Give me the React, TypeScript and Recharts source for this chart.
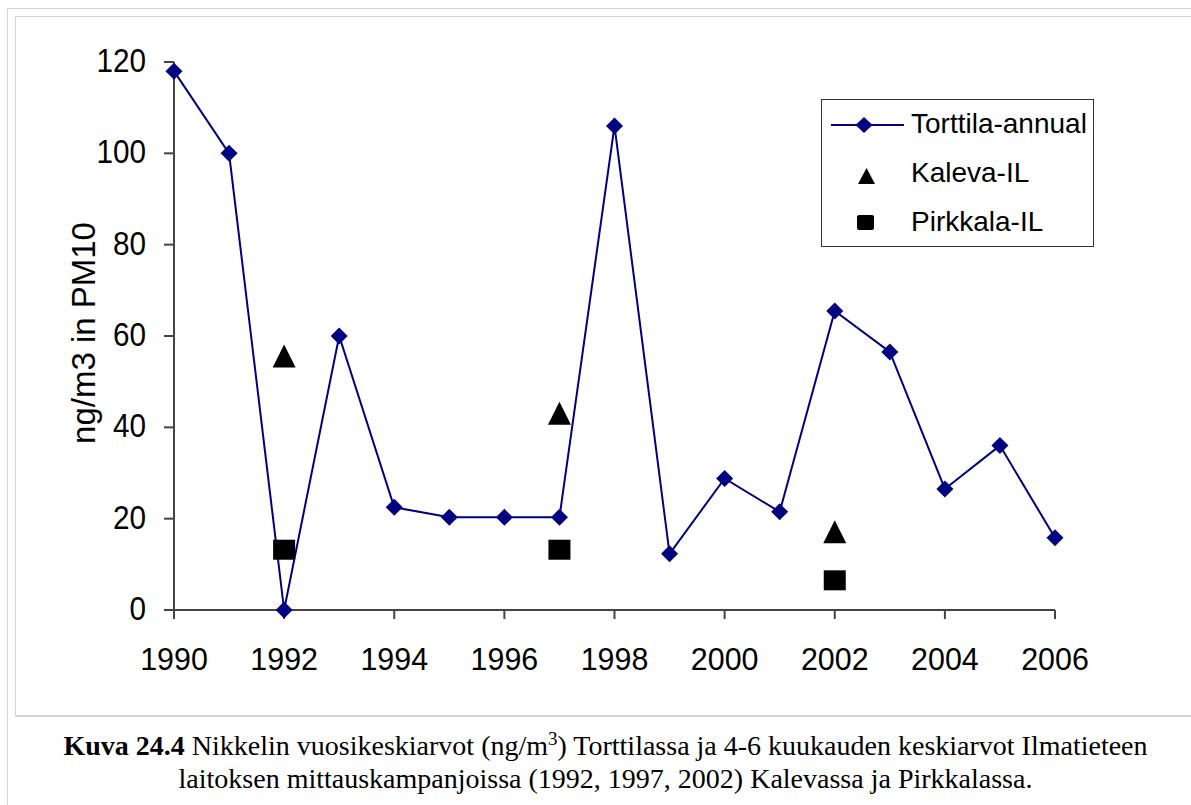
import React from "react";
import { ComposedChart, Line, Scatter, XAxis, YAxis, Legend } from "recharts";

const years = [1990, 1991, 1992, 1993, 1994, 1995, 1996, 1997, 1998, 1999, 2000, 2001, 2002, 2003, 2004, 2005, 2006];
const torttila = [118, 100, 0, 60, 22.5, 20.3, 20.3, 20.3, 106, 12.3, 28.8, 21.5, 65.5, 56.5, 26.5, 36, 15.8];

const campaignYears = [1992, 1997, 2002];
const kaleva = [55.5, 43, 17];
const pirkkala = [13.2, 13.2, 6.5];

const xTicks = [1990, 1992, 1994, 1996, 1998, 2000, 2002, 2004, 2006];
const yTicks = [0, 20, 40, 60, 80, 100, 120];

const torttilaRows = years.map((year, i) => ({ year, value: torttila[i] }));
const kalevaRows = campaignYears.map((year, i) => ({ year, value: kaleva[i] }));
const pirkkalaRows = campaignYears.map((year, i) => ({ year, value: pirkkala[i] }));

const NAVY = "#000080";
const FONT = "Arial, 'Liberation Sans', sans-serif";

const Diamond = (props: any) => {
  const { cx, cy, index } = props;
  if (cx == null || cy == null) return <g key={index} />;
  const r = 8.5;
  return (
    <polygon
      key={index}
      points={`${cx},${cy - r} ${cx + r},${cy} ${cx},${cy + r} ${cx - r},${cy}`}
      fill={NAVY}
    />
  );
};

const Triangle = (props: any) => {
  const { cx, cy } = props;
  return <polygon points={`${cx},${cy - 12} ${cx + 11.5},${cy + 11} ${cx - 11.5},${cy + 11}`} fill="#000" />;
};

const Square = (props: any) => {
  const { cx, cy } = props;
  return <rect x={cx - 11} y={cy - 10} width={22} height={20} fill="#000" />;
};

const XTick = (props: any) => {
  const { x, y, payload } = props;
  return (
    <text transform={`translate(${x},${y + 49}) scale(0.95,1)`} textAnchor="middle" fontSize={32} fontFamily={FONT} fill="#000">
      {payload.value}
    </text>
  );
};

const YTick = (props: any) => {
  const { x, y, payload } = props;
  return (
    <text transform={`translate(${x - 16},${y + 10}) scale(0.9,1)`} textAnchor="end" fontSize={33} fontFamily={FONT} fill="#000">
      {payload.value}
    </text>
  );
};

const legendItems = ["Torttila-annual", "Kaleva-IL", "Pirkkala-IL"];

const LegendBox = () => (
  <div
    style={{
      width: 273,
      height: 148,
      border: "1px solid #333",
      background: "#fff",
      fontFamily: FONT,
      fontSize: 28,
      color: "#000",
      boxSizing: "border-box",
      position: "relative",
    }}
  >
    <svg width={90} height={148} style={{ position: "absolute", left: 0, top: 0 }}>
      <line x1={9} y1={25} x2={82} y2={25} stroke={NAVY} strokeWidth={2} />
      <polygon points="42,17 50.5,25 42,33 33.5,25" fill={NAVY} />
      <polygon points="44.5,68 53,84 36,84" fill="#000" />
      <rect x={35} y={115} width={17} height={15} rx={2} fill="#000" />
    </svg>
    {legendItems.map((t, i) => (
      <div
        key={t}
        style={{
          position: "absolute",
          left: 89,
          top: 9 + i * 49,
          lineHeight: "30px",
          whiteSpace: "nowrap",
        }}
      >
        {t}
      </div>
    ))}
  </div>
);

export default function App() {
  return (
    <div style={{ position: "absolute", left: 0, top: 0, width: 1191, height: 805, background: "#fff" }}>
      <div style={{ position: "absolute", left: 7, top: 8, right: 0, bottom: 0, borderLeft: "1px solid #d4d4d4", borderTop: "1px solid #d4d4d4" }} />
      <div style={{ position: "absolute", left: 15, top: 16, width: 1176, height: 698, borderLeft: "1px solid #d4d4d4", borderTop: "1px solid #d4d4d4", borderBottom: "2px solid #d4d4d4" }} />
      <div style={{ position: "absolute", left: 0, top: 0 }}>
        <ComposedChart width={1191} height={715} margin={{ top: 62, right: 136, bottom: 0, left: 74 }}>
          <XAxis
            dataKey="year"
            type="number"
            domain={[1990, 2006]}
            ticks={xTicks}
            allowDuplicatedCategory={false}
            height={105}
            tickSize={9}
            tick={<XTick />}
            stroke="#444"
            strokeWidth={2}
          />
          <YAxis
            type="number"
            domain={[0, 120]}
            ticks={yTicks}
            width={100}
            tickSize={10}
            tick={<YTick />}
            stroke="#444"
            strokeWidth={2}
            label={{
              value: "ng/m3 in PM10",
              angle: -90,
              position: "insideLeft",
              offset: 0,
              dx: 9,
              dy: -3,
              style: { fontSize: 33, fontFamily: FONT, fill: "#000", textAnchor: "middle" },
            }}
          />
          <Legend
            verticalAlign="middle"
            align="center"
            layout="vertical"
            wrapperStyle={{ left: 821, top: 99, width: 273 }}
            content={() => <LegendBox />}
          />
          <Line
            data={torttilaRows}
            dataKey="value"
            name="Torttila-annual"
            type="linear"
            stroke={NAVY}
            strokeWidth={2}
            dot={<Diamond />}
            activeDot={false}
            isAnimationActive={false}
          />
          <Scatter data={kalevaRows} dataKey="value" name="Kaleva-IL" shape={<Triangle />} isAnimationActive={false} />
          <Scatter data={pirkkalaRows} dataKey="value" name="Pirkkala-IL" shape={<Square />} isAnimationActive={false} />
        </ComposedChart>
      </div>
      <div
        style={{
          position: "absolute",
          left: 10,
          top: 729,
          width: 1191,
          textAlign: "center",
          fontFamily: "'Times New Roman', 'Liberation Serif', serif",
          fontSize: 28,
          lineHeight: "33px",
          color: "#000",
        }}
      >
        <div style={{ whiteSpace: "nowrap" }}>
          <b>Kuva 24.4</b> Nikkelin vuosikeskiarvot (ng/m<sup style={{ fontSize: 19, lineHeight: 0 }}>3</sup>) Torttilassa ja 4-6 kuukauden keskiarvot Ilmatieteen
        </div>
        <div style={{ whiteSpace: "nowrap" }}>laitoksen mittauskampanjoissa (1992, 1997, 2002) Kalevassa ja Pirkkalassa.</div>
      </div>
    </div>
  );
}
